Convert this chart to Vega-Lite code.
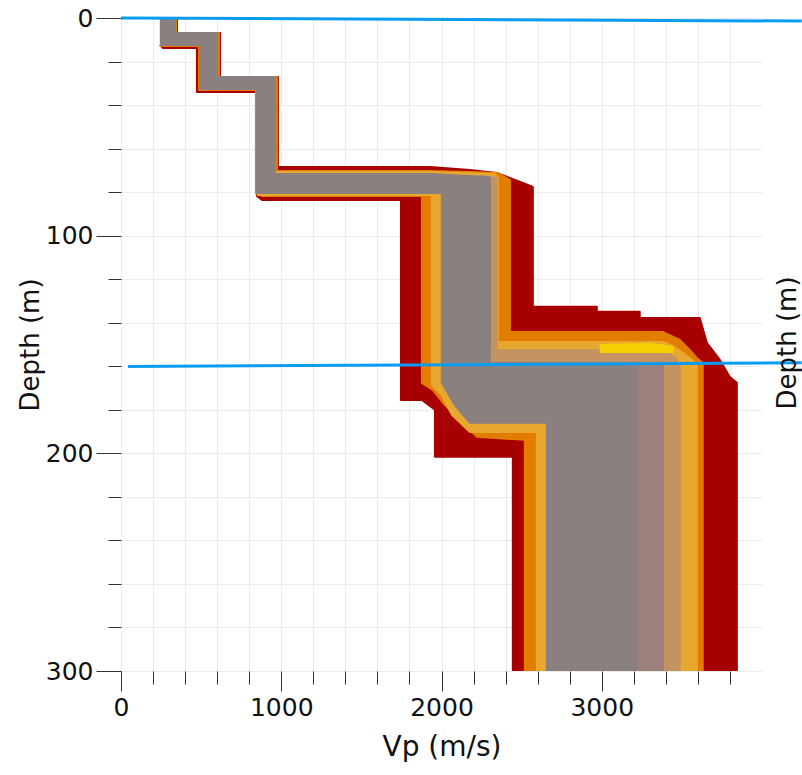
{
  "$schema": "https://vega.github.io/schema/vega-lite/v6.json",
  "width": 641,
  "height": 653,
  "autosize": {"type": "none"},
  "padding": {"left": 121, "top": 18, "right": 40, "bottom": 104},
  "background": "white",
  "config": {"view": {"stroke": null}, "font": "DejaVu Sans"},
  "layer": [
    {
      "data": {"values": [
        {"poly": "p1", "band": "red", "ord": 1, "Vp": 243, "Depth": 0},
        {"poly": "p1", "band": "red", "ord": 2, "Vp": 349, "Depth": 0},
        {"poly": "p1", "band": "red", "ord": 3, "Vp": 349, "Depth": 6.9},
        {"poly": "p1", "band": "red", "ord": 4, "Vp": 618, "Depth": 6.9},
        {"poly": "p1", "band": "red", "ord": 5, "Vp": 618, "Depth": 27.1},
        {"poly": "p1", "band": "red", "ord": 6, "Vp": 979, "Depth": 27.1},
        {"poly": "p1", "band": "red", "ord": 7, "Vp": 979, "Depth": 68.4},
        {"poly": "p1", "band": "red", "ord": 8, "Vp": 1928, "Depth": 68.4},
        {"poly": "p1", "band": "red", "ord": 9, "Vp": 2177, "Depth": 69.8},
        {"poly": "p1", "band": "red", "ord": 10, "Vp": 2345, "Depth": 71.2},
        {"poly": "p1", "band": "red", "ord": 11, "Vp": 2458, "Depth": 74.4},
        {"poly": "p1", "band": "red", "ord": 12, "Vp": 2508, "Depth": 75.8},
        {"poly": "p1", "band": "red", "ord": 13, "Vp": 2570, "Depth": 77.6},
        {"poly": "p1", "band": "red", "ord": 14, "Vp": 2570, "Depth": 132.7},
        {"poly": "p1", "band": "red", "ord": 15, "Vp": 2969, "Depth": 132.7},
        {"poly": "p1", "band": "red", "ord": 16, "Vp": 2969, "Depth": 135.0},
        {"poly": "p1", "band": "red", "ord": 17, "Vp": 3237, "Depth": 135.0},
        {"poly": "p1", "band": "red", "ord": 18, "Vp": 3237, "Depth": 137.8},
        {"poly": "p1", "band": "red", "ord": 19, "Vp": 3612, "Depth": 137.8},
        {"poly": "p1", "band": "red", "ord": 20, "Vp": 3656, "Depth": 149.3},
        {"poly": "p1", "band": "red", "ord": 21, "Vp": 3737, "Depth": 157.1},
        {"poly": "p1", "band": "red", "ord": 22, "Vp": 3799, "Depth": 164.9},
        {"poly": "p1", "band": "red", "ord": 23, "Vp": 3843, "Depth": 167.6},
        {"poly": "p1", "band": "red", "ord": 24, "Vp": 3843, "Depth": 300},
        {"poly": "p1", "band": "red", "ord": 25, "Vp": 2445, "Depth": 300},
        {"poly": "p1", "band": "red", "ord": 26, "Vp": 2445, "Depth": 201.6},
        {"poly": "p1", "band": "red", "ord": 27, "Vp": 1959, "Depth": 201.6},
        {"poly": "p1", "band": "red", "ord": 28, "Vp": 1959, "Depth": 180.0},
        {"poly": "p1", "band": "red", "ord": 29, "Vp": 1878, "Depth": 175.5},
        {"poly": "p1", "band": "red", "ord": 30, "Vp": 1747, "Depth": 175.5},
        {"poly": "p1", "band": "red", "ord": 31, "Vp": 1747, "Depth": 83.6},
        {"poly": "p1", "band": "red", "ord": 32, "Vp": 880, "Depth": 83.6},
        {"poly": "p1", "band": "red", "ord": 33, "Vp": 848, "Depth": 81.8},
        {"poly": "p1", "band": "red", "ord": 34, "Vp": 848, "Depth": 34.0},
        {"poly": "p1", "band": "red", "ord": 35, "Vp": 474, "Depth": 34.0},
        {"poly": "p1", "band": "red", "ord": 36, "Vp": 474, "Depth": 13.8},
        {"poly": "p1", "band": "red", "ord": 37, "Vp": 262, "Depth": 13.8},
        {"poly": "p1", "band": "red", "ord": 38, "Vp": 243, "Depth": 12.4},

        {"poly": "p2", "band": "orange", "ord": 1, "Vp": 243, "Depth": 0},
        {"poly": "p2", "band": "orange", "ord": 2, "Vp": 343, "Depth": 0},
        {"poly": "p2", "band": "orange", "ord": 3, "Vp": 343, "Depth": 6.9},
        {"poly": "p2", "band": "orange", "ord": 4, "Vp": 611, "Depth": 6.9},
        {"poly": "p2", "band": "orange", "ord": 5, "Vp": 611, "Depth": 27.1},
        {"poly": "p2", "band": "orange", "ord": 6, "Vp": 973, "Depth": 27.1},
        {"poly": "p2", "band": "orange", "ord": 7, "Vp": 973, "Depth": 70.3},
        {"poly": "p2", "band": "orange", "ord": 8, "Vp": 1928, "Depth": 70.3},
        {"poly": "p2", "band": "orange", "ord": 9, "Vp": 2177, "Depth": 70.7},
        {"poly": "p2", "band": "orange", "ord": 10, "Vp": 2345, "Depth": 71.2},
        {"poly": "p2", "band": "orange", "ord": 11, "Vp": 2427, "Depth": 74.4},
        {"poly": "p2", "band": "orange", "ord": 12, "Vp": 2427, "Depth": 144.2},
        {"poly": "p2", "band": "orange", "ord": 13, "Vp": 3381, "Depth": 144.2},
        {"poly": "p2", "band": "orange", "ord": 14, "Vp": 3487, "Depth": 147.9},
        {"poly": "p2", "band": "orange", "ord": 15, "Vp": 3549, "Depth": 152.5},
        {"poly": "p2", "band": "orange", "ord": 16, "Vp": 3593, "Depth": 156.2},
        {"poly": "p2", "band": "orange", "ord": 17, "Vp": 3630, "Depth": 158.5},
        {"poly": "p2", "band": "orange", "ord": 18, "Vp": 3630, "Depth": 300},
        {"poly": "p2", "band": "orange", "ord": 19, "Vp": 2520, "Depth": 300},
        {"poly": "p2", "band": "orange", "ord": 20, "Vp": 2520, "Depth": 193.8},
        {"poly": "p2", "band": "orange", "ord": 21, "Vp": 2221, "Depth": 192.4},
        {"poly": "p2", "band": "orange", "ord": 22, "Vp": 2115, "Depth": 184.6},
        {"poly": "p2", "band": "orange", "ord": 23, "Vp": 2021, "Depth": 177.8},
        {"poly": "p2", "band": "orange", "ord": 24, "Vp": 1946, "Depth": 170.9},
        {"poly": "p2", "band": "orange", "ord": 25, "Vp": 1878, "Depth": 167.6},
        {"poly": "p2", "band": "orange", "ord": 26, "Vp": 1878, "Depth": 81.8},
        {"poly": "p2", "band": "orange", "ord": 27, "Vp": 880, "Depth": 81.8},
        {"poly": "p2", "band": "orange", "ord": 28, "Vp": 842, "Depth": 80.4},
        {"poly": "p2", "band": "orange", "ord": 29, "Vp": 842, "Depth": 33.1},
        {"poly": "p2", "band": "orange", "ord": 30, "Vp": 487, "Depth": 33.1},
        {"poly": "p2", "band": "orange", "ord": 31, "Vp": 487, "Depth": 12.9},
        {"poly": "p2", "band": "orange", "ord": 32, "Vp": 243, "Depth": 12.9},

        {"poly": "p3", "band": "gold", "ord": 1, "Vp": 848, "Depth": 70.7},
        {"poly": "p3", "band": "gold", "ord": 2, "Vp": 1928, "Depth": 70.7},
        {"poly": "p3", "band": "gold", "ord": 3, "Vp": 2333, "Depth": 71.7},
        {"poly": "p3", "band": "gold", "ord": 4, "Vp": 2352, "Depth": 73.5},
        {"poly": "p3", "band": "gold", "ord": 5, "Vp": 2352, "Depth": 148.8},
        {"poly": "p3", "band": "gold", "ord": 6, "Vp": 3381, "Depth": 148.8},
        {"poly": "p3", "band": "gold", "ord": 7, "Vp": 3443, "Depth": 150.6},
        {"poly": "p3", "band": "gold", "ord": 8, "Vp": 3549, "Depth": 156.2},
        {"poly": "p3", "band": "gold", "ord": 9, "Vp": 3593, "Depth": 159.4},
        {"poly": "p3", "band": "gold", "ord": 10, "Vp": 3593, "Depth": 300},
        {"poly": "p3", "band": "gold", "ord": 11, "Vp": 2595, "Depth": 300},
        {"poly": "p3", "band": "gold", "ord": 12, "Vp": 2595, "Depth": 190.2},
        {"poly": "p3", "band": "gold", "ord": 13, "Vp": 2177, "Depth": 190.2},
        {"poly": "p3", "band": "gold", "ord": 14, "Vp": 2065, "Depth": 182.3},
        {"poly": "p3", "band": "gold", "ord": 15, "Vp": 2002, "Depth": 173.2},
        {"poly": "p3", "band": "gold", "ord": 16, "Vp": 1940, "Depth": 168.6},
        {"poly": "p3", "band": "gold", "ord": 17, "Vp": 1940, "Depth": 81.3},
        {"poly": "p3", "band": "gold", "ord": 18, "Vp": 848, "Depth": 81.3},

        {"poly": "p4", "band": "tan", "ord": 1, "Vp": 2239, "Depth": 72.6},
        {"poly": "p4", "band": "tan", "ord": 2, "Vp": 2345, "Depth": 73.5},
        {"poly": "p4", "band": "tan", "ord": 3, "Vp": 2345, "Depth": 152.5},
        {"poly": "p4", "band": "tan", "ord": 4, "Vp": 3362, "Depth": 152.5},
        {"poly": "p4", "band": "tan", "ord": 5, "Vp": 3456, "Depth": 155.7},
        {"poly": "p4", "band": "tan", "ord": 6, "Vp": 3487, "Depth": 159.4},
        {"poly": "p4", "band": "tan", "ord": 7, "Vp": 3487, "Depth": 300},
        {"poly": "p4", "band": "tan", "ord": 8, "Vp": 2739, "Depth": 300},
        {"poly": "p4", "band": "tan", "ord": 9, "Vp": 2739, "Depth": 175.5},
        {"poly": "p4", "band": "tan", "ord": 10, "Vp": 2239, "Depth": 175.5},

        {"poly": "p5", "band": "brown", "ord": 1, "Vp": 2739, "Depth": 158.5},
        {"poly": "p5", "band": "brown", "ord": 2, "Vp": 3381, "Depth": 158.5},
        {"poly": "p5", "band": "brown", "ord": 3, "Vp": 3381, "Depth": 300},
        {"poly": "p5", "band": "brown", "ord": 4, "Vp": 2739, "Depth": 300},

        {"poly": "p6", "band": "yellow", "ord": 1, "Vp": 2988, "Depth": 150.2},
        {"poly": "p6", "band": "yellow", "ord": 2, "Vp": 3300, "Depth": 149.7},
        {"poly": "p6", "band": "yellow", "ord": 3, "Vp": 3443, "Depth": 151.1},
        {"poly": "p6", "band": "yellow", "ord": 4, "Vp": 3443, "Depth": 153.4},
        {"poly": "p6", "band": "yellow", "ord": 5, "Vp": 2988, "Depth": 153.4},

        {"poly": "p7", "band": "grey", "ord": 1, "Vp": 243, "Depth": 0},
        {"poly": "p7", "band": "grey", "ord": 2, "Vp": 337, "Depth": 0},
        {"poly": "p7", "band": "grey", "ord": 3, "Vp": 337, "Depth": 6.9},
        {"poly": "p7", "band": "grey", "ord": 4, "Vp": 599, "Depth": 6.9},
        {"poly": "p7", "band": "grey", "ord": 5, "Vp": 599, "Depth": 27.1},
        {"poly": "p7", "band": "grey", "ord": 6, "Vp": 961, "Depth": 27.1},
        {"poly": "p7", "band": "grey", "ord": 7, "Vp": 961, "Depth": 71.7},
        {"poly": "p7", "band": "grey", "ord": 8, "Vp": 1928, "Depth": 71.7},
        {"poly": "p7", "band": "grey", "ord": 9, "Vp": 2302, "Depth": 73.0},
        {"poly": "p7", "band": "grey", "ord": 10, "Vp": 2302, "Depth": 158.5},
        {"poly": "p7", "band": "grey", "ord": 11, "Vp": 3219, "Depth": 158.5},
        {"poly": "p7", "band": "grey", "ord": 12, "Vp": 3219, "Depth": 300},
        {"poly": "p7", "band": "grey", "ord": 13, "Vp": 2657, "Depth": 300},
        {"poly": "p7", "band": "grey", "ord": 14, "Vp": 2657, "Depth": 186.0},
        {"poly": "p7", "band": "grey", "ord": 15, "Vp": 2177, "Depth": 186.0},
        {"poly": "p7", "band": "grey", "ord": 16, "Vp": 2083, "Depth": 177.8},
        {"poly": "p7", "band": "grey", "ord": 17, "Vp": 2002, "Depth": 167.6},
        {"poly": "p7", "band": "grey", "ord": 18, "Vp": 2002, "Depth": 80.4},
        {"poly": "p7", "band": "grey", "ord": 19, "Vp": 848, "Depth": 80.4},
        {"poly": "p7", "band": "grey", "ord": 20, "Vp": 848, "Depth": 32.6},
        {"poly": "p7", "band": "grey", "ord": 21, "Vp": 493, "Depth": 32.6},
        {"poly": "p7", "band": "grey", "ord": 22, "Vp": 493, "Depth": 12.4},
        {"poly": "p7", "band": "grey", "ord": 23, "Vp": 243, "Depth": 12.4}
      ]},
      "mark": {"type": "line", "strokeWidth": 2, "strokeJoin": "round", "clip": true},
      "encoding": {
        "x": {
          "field": "Vp", "type": "quantitative",
          "scale": {"domain": [0, 4000], "nice": false, "zero": false},
          "axis": {
            "title": "Vp (m/s)",
            "values": [0, 200, 400, 600, 800, 1000, 1200, 1400, 1600, 1800, 2000, 2200, 2400, 2600, 2800, 3000, 3200, 3400, 3600, 3800],
            "tickCount": 40,
            "format": "d",
            "labelExpr": "datum.value % 1000 === 0 ? datum.label : ''",
            "labelOverlap": false,
            "labelFlush": false,
            "labelFont": "DejaVu Sans",
            "labelFontSize": 25,
            "labelColor": "#111",
            "labelPadding": 4,
            "domain": false,
            "grid": true,
            "gridColor": "#ebebeb",
            "gridWidth": 1,
            "ticks": true,
            "tickColor": "#333",
            "tickWidth": 1,
            "tickSize": {"condition": {"test": "datum.value % 1000 === 0", "value": 20}, "value": 13},
            "titleFont": "DejaVu Sans",
            "titleFontSize": 28,
            "titleFontWeight": "normal",
            "titleColor": "#111",
            "titlePadding": 13
          }
        },
        "y": {
          "field": "Depth", "type": "quantitative",
          "scale": {"domain": [0, 300], "reverse": true, "nice": false, "zero": false},
          "axis": {
            "title": "Depth (m)",
            "values": [0, 20, 40, 60, 80, 100, 120, 140, 160, 180, 200, 220, 240, 260, 280, 300],
            "tickCount": 40,
            "format": "d",
            "labelExpr": "datum.value % 100 === 0 ? datum.label : ''",
            "labelOverlap": false,
            "labelFlush": false,
            "labelFont": "DejaVu Sans",
            "labelFontSize": 25,
            "labelColor": "#111",
            "labelPadding": 3,
            "domain": false,
            "grid": true,
            "gridColor": "#ebebeb",
            "gridWidth": 1,
            "ticks": true,
            "tickColor": "#333",
            "tickWidth": 1,
            "tickSize": {"condition": {"test": "datum.value % 100 === 0", "value": 25}, "value": 13},
            "titleFont": "DejaVu Sans",
            "titleFontSize": 26,
            "titleFontWeight": "normal",
            "titleColor": "#111",
            "titlePadding": 2
          }
        },
        "order": {"field": "ord", "type": "quantitative"},
        "detail": {"field": "poly", "type": "nominal"},
        "stroke": {
          "field": "band", "type": "nominal",
          "scale": {"domain": ["red", "orange", "gold", "tan", "brown", "yellow", "grey"],
                    "range": ["#a80000", "#e27d00", "#e8a830", "#c4935f", "#9c8079", "#f5d000", "#8a807f"]},
          "legend": null
        },
        "fill": {
          "field": "band", "type": "nominal",
          "scale": {"domain": ["red", "orange", "gold", "tan", "brown", "yellow", "grey"],
                    "range": ["#a80000", "#e27d00", "#e8a830", "#c4935f", "#9c8079", "#f5d000", "#8a807f"]},
          "legend": null
        }
      }
    },
    {
      "data": {"values": [
        {"Vp": 0, "Depth": 0, "Vp2": 4248, "Depth2": 1.4},
        {"Vp": 44, "Depth": 160.1, "Vp2": 4248, "Depth2": 158.4}
      ]},
      "mark": {"type": "rule", "color": "#0a9cf0", "strokeWidth": 3, "clip": false},
      "encoding": {
        "x": {"field": "Vp", "type": "quantitative"},
        "x2": {"field": "Vp2"},
        "y": {"field": "Depth", "type": "quantitative"},
        "y2": {"field": "Depth2"}
      }
    },
    {
      "data": {"values": [
        {"Vp": 4165, "Depth": 149.3, "label": "Depth (m)"}
      ]},
      "mark": {"type": "text", "angle": 270, "fontSize": 26, "font": "DejaVu Sans", "color": "#111", "clip": false},
      "encoding": {
        "x": {"field": "Vp", "type": "quantitative"},
        "y": {"field": "Depth", "type": "quantitative"},
        "text": {"field": "label"}
      }
    }
  ]
}
